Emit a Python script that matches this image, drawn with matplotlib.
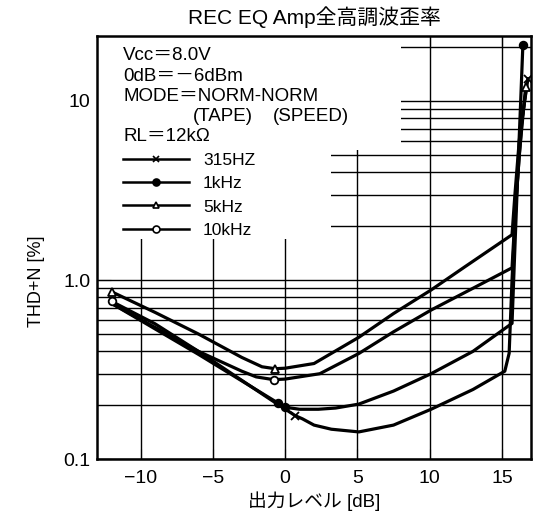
import matplotlib
matplotlib.use("Agg")
import matplotlib.pyplot as plt
from matplotlib.lines import Line2D
from matplotlib.patches import Rectangle
from matplotlib.ticker import FixedLocator, FixedFormatter, LogLocator, NullFormatter

plt.rcParams['font.family'] = ['Liberation Sans', 'Noto Sans CJK JP', 'DejaVu Sans']

# --- data (output level dB, THD+N %) ---
x_315 = [-12, -6, -1, 0.7, 1.2, 2, 3.2, 5.1, 7.5, 10.1, 13, 15.2, 15.5, 15.7, 16.0, 16.4, 16.8]
y_315 = [0.74, 0.40, 0.215, 0.175, 0.168, 0.155, 0.147, 0.142, 0.155, 0.19, 0.245, 0.31, 0.39, 1.0, 3.0, 8.0, 13.3]
mk_315 = [3, 16]

x_1k = [-12, -6, -0.5, 0, 1, 2.3, 3.5, 5.1, 7.5, 10.1, 13, 15.7, 15.85, 16.1, 16.3, 16.45]
y_1k = [0.74, 0.385, 0.206, 0.195, 0.19, 0.19, 0.193, 0.203, 0.24, 0.30, 0.40, 0.573, 1.2, 4.0, 10, 20.5]
mk_1k = [2, 3, 15]

x_5k = [-12, -9, -6, -3, -1.6, -0.7, 0, 2, 5.1, 7.5, 10.1, 12.4, 15.7, 15.9, 16.2, 16.7]
y_5k = [0.86, 0.66, 0.50, 0.37, 0.328, 0.32, 0.322, 0.342, 0.479, 0.65, 0.88, 1.18, 1.79, 3, 6, 12]
mk_5k = [0, 5, 15]

x_10k = [-12, -9, -6, -3, -2, -0.8, 0, 2.4, 5.1, 7.5, 10.1, 13, 15.7, 15.85, 16.2, 16.6]
y_10k = [0.76, 0.57, 0.40, 0.31, 0.288, 0.278, 0.28, 0.30, 0.389, 0.514, 0.68, 0.90, 1.17, 1.9, 5, 11]
mk_10k = [0, 5]

labels = ['315HZ', '1kHz', '5kHz', '10kHz']
markers = ['x', 'o', '^', 'o']
faces = ['k', 'k', 'white', 'white']

fig = plt.figure(figsize=(5.4, 5.23), dpi=100)
ax = fig.add_axes([0.18, 0.122, 0.803, 0.809])

series = [(x_315, y_315, mk_315), (x_1k, y_1k, mk_1k), (x_5k, y_5k, mk_5k), (x_10k, y_10k, mk_10k)]
for (xs, ys, mk), m, fc in zip(series, markers, faces):
    ax.plot(xs, ys, color='k', lw=2.3, zorder=3, solid_joinstyle='round')
    ax.plot([xs[i] for i in mk], [ys[i] for i in mk], ls='none', marker=m, ms=5.5,
            mfc=fc, mec='k', mew=1.3, zorder=4)

ax.set_yscale('log')
ax.set_xlim(-13, 17)
ax.set_ylim(0.1, 23)

ax.xaxis.set_major_locator(FixedLocator([-10, -5, 0, 5, 10, 15]))
ax.yaxis.set_major_locator(FixedLocator([0.1, 1, 10]))
ax.yaxis.set_major_formatter(FixedFormatter(['0.1', '1.0', '10']))
ax.yaxis.set_minor_locator(LogLocator(subs=range(2, 10)))
ax.yaxis.set_minor_formatter(NullFormatter())

ax.set_axisbelow(True)
ax.grid(which='both', axis='y', color='k', lw=1)
ax.grid(which='major', axis='x', color='k', lw=1)
for s in ax.spines.values():
    s.set_linewidth(1.8)

ax.tick_params(axis='both', which='both', direction='in', labelsize=14, top=True, right=False)
ax.tick_params(axis='x', which='major', length=7, pad=8)
ax.tick_params(axis='y', which='both', length=10, pad=5)

# white areas behind the notes, where the grid is blank
ax.add_patch(Rectangle((0, 0.73), 0.70, 0.27, transform=ax.transAxes, fc='white', ec='none', zorder=1))
ax.add_patch(Rectangle((0, 0.52), 0.54, 0.22, transform=ax.transAxes, fc='white', ec='none', zorder=1))

fs = 13.5
ax.text(0.06, 0.955, 'Vcc＝8.0V', transform=ax.transAxes, fontsize=fs, va='center', zorder=5)
ax.text(0.06, 0.905, '0dB＝－6dBm', transform=ax.transAxes, fontsize=fs, va='center', zorder=5)
ax.text(0.06, 0.857, 'MODE＝NORM-NORM', transform=ax.transAxes, fontsize=fs, va='center', zorder=5)
ax.text(0.221, 0.81, '(TAPE)', transform=ax.transAxes, fontsize=fs, va='center', zorder=5)
ax.text(0.406, 0.81, '(SPEED)', transform=ax.transAxes, fontsize=fs, va='center', zorder=5)
ax.text(0.06, 0.762, 'RL＝12kΩ', transform=ax.transAxes, fontsize=fs, va='center', zorder=5)

handles = [Line2D([], [], color='k', lw=1.8, marker=m, ms=5, mfc=fc, mec='k', mew=1.2)
           for m, fc in zip(markers, faces)]
ax.legend(handles, labels, loc='upper left', bbox_to_anchor=(0.06, 0.725), frameon=False,
          fontsize=12.5, handlelength=3.8, handletextpad=0.8, labelspacing=0.48,
          borderpad=0, borderaxespad=0)

ax.set_title('REC EQ Amp全高調波歪率', fontsize=15, pad=9)
ax.set_xlabel('出力レベル [dB]', fontsize=13.5, labelpad=3)
ax.set_ylabel('THD+N [%]', fontsize=13)
ax.yaxis.set_label_coords(-0.12, 0.42)

fig.savefig('out.png', dpi=100)
